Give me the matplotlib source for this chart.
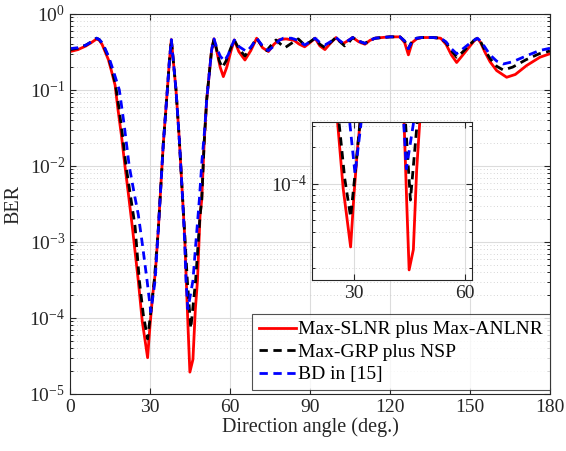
import matplotlib
matplotlib.use("Agg")
import matplotlib.pyplot as plt
from matplotlib.ticker import LogLocator, NullFormatter, FixedLocator

plt.rcParams['font.family'] = ['Liberation Serif', 'DejaVu Serif']
plt.rcParams['mathtext.fontset'] = 'custom'
plt.rcParams['mathtext.rm'] = 'Liberation Serif'
plt.rcParams['mathtext.default'] = 'regular'
plt.rcParams['axes.unicode_minus'] = False

# Max-SLNR plus Max-ANLNR (red)
red_ang = [0, 3, 6, 8, 10, 11, 12, 13, 14.4, 15.5, 16.9, 18, 19.3, 20.6, 22, 23.5,
           25.6, 27.1, 28, 29.1, 30, 31, 32, 33.1, 34, 35, 36.5, 37.3, 38, 38.7,
           39.75, 41, 42.25, 43, 43.6, 44.3, 44.95, 46.1, 47, 47.8, 48.75, 49.4,
           50.3, 51.25, 53.1, 54, 55, 56.3, 57.5, 58.8, 60.3, 61.6, 63.3, 65.6,
           67.8, 70, 72.2, 74.4, 76.5, 78.5, 81, 84, 86, 88, 90, 91.9, 93.7, 95.6,
           97.6, 99.75, 101, 102.5, 104, 106, 108.3, 110.6, 112.5, 114.4, 117, 120,
           123.75, 125.5, 126.9, 128.3, 130, 132, 136, 139, 141, 143, 145, 147,
           149.5, 151.5, 152.75, 154, 155.5, 157.5, 160, 163.75, 167, 171.25,
           176.25, 180]
red_ber = [0.32, 0.34, 0.38, 0.42, 0.47, 0.45, 0.40, 0.33, 0.25, 0.18, 0.116, 0.055,
           0.025, 0.010, 4.0e-3, 1.44e-3, 3.1e-4, 9e-5, 5.5e-5, 3.0e-5, 8e-5, 2.0e-4,
           4.0e-4, 1.44e-3, 5e-3, 0.02, 0.1, 0.25, 0.46, 0.25, 0.1, 0.022, 3.6e-3,
           1.2e-3, 3.1e-4, 7e-5, 1.94e-5, 2.85e-5, 1.3e-4, 3.1e-4, 2.2e-3, 3.6e-3,
           0.02, 0.074, 0.336, 0.47, 0.33, 0.2, 0.15, 0.2, 0.32, 0.455, 0.32, 0.248,
           0.33, 0.48, 0.36, 0.32, 0.40, 0.46, 0.47, 0.45, 0.40, 0.37, 0.42, 0.48,
           0.38, 0.34, 0.41, 0.49, 0.44, 0.41, 0.44, 0.49, 0.43, 0.40, 0.45, 0.48,
           0.49, 0.50, 0.50, 0.42, 0.29, 0.42, 0.47, 0.49, 0.49, 0.48, 0.40, 0.29,
           0.23, 0.28, 0.36, 0.44, 0.48, 0.42, 0.32, 0.236, 0.18, 0.147, 0.16, 0.21,
           0.27, 0.30]

# Max-GRP plus NSP (black)
blk_ang = [0, 3, 6, 8, 10, 11, 12, 13, 14.4, 15.5, 17, 18.3, 19.7, 21, 22.7, 24.4,
           26.0, 27.5, 29.1, 30.3, 31.6, 33.1, 34, 35, 36.5, 37.3, 38, 38.7, 39.75,
           41, 42.25, 43, 44.0, 45.3, 47.1, 48.75, 49.4, 50.3, 51.25, 53.1, 54, 55,
           56, 57.1, 58.5, 60.2, 61.6, 63.5, 65.6, 67.8, 70, 72, 73.75, 75.5, 77.25,
           79, 80.6, 83, 85.6, 88, 90, 91.9, 93.7, 95.6, 97.6, 99.75, 101.3, 103,
           104.5, 106, 108.3, 110.6, 112.5, 114.4, 117, 120, 123.75, 125.5, 126.9,
           128.3, 130, 132, 136, 139, 141, 143, 145, 147, 149.5, 151.5, 152.75, 154,
           155.5, 157.5, 160, 162.5, 166, 171, 176, 180]
blk_ber = [0.34, 0.355, 0.39, 0.43, 0.48, 0.46, 0.41, 0.35, 0.27, 0.20, 0.12, 0.06,
           0.025, 0.010, 4.0e-3, 1.6e-3, 3.1e-4, 1.1e-4, 5.3e-5, 1.2e-4, 3.1e-4,
           1.44e-3, 5e-3, 0.02, 0.1, 0.25, 0.46, 0.25, 0.1, 0.022, 3.6e-3, 1.3e-3,
           3.1e-4, 7.3e-5, 3.1e-4, 2.2e-3, 3.6e-3, 0.02, 0.074, 0.336, 0.47, 0.34,
           0.24, 0.197, 0.24, 0.35, 0.455, 0.34, 0.28, 0.36, 0.48, 0.38, 0.33, 0.39,
           0.455, 0.40, 0.36, 0.41, 0.47, 0.39, 0.43, 0.48, 0.40, 0.36, 0.42, 0.49,
           0.43, 0.38, 0.42, 0.49, 0.44, 0.41, 0.45, 0.48, 0.49, 0.50, 0.50, 0.44,
           0.35, 0.44, 0.48, 0.49, 0.49, 0.48, 0.42, 0.33, 0.27, 0.31, 0.38, 0.45,
           0.48, 0.43, 0.34, 0.26, 0.205, 0.183, 0.20, 0.25, 0.30, 0.326]

# BD in [15] (blue)
blu_ang = [0, 3, 6, 8, 10, 11, 12, 13, 14.4, 15.8, 17.2, 18.5, 20.3, 22.2, 24, 25.6,
           27.2, 28.9, 30.3, 31.9, 33.1, 34, 35, 36.5, 37.3, 38, 38.7, 39.75, 41,
           42.25, 43, 43.5, 44.2, 46.1, 47, 48.5, 49.5, 50.5, 51.25, 53.1, 54, 55,
           56.3, 57.9, 59.3, 60.5, 61.6, 63.5, 66.25, 68.2, 70, 72.2, 74.4, 76.5,
           78.5, 80, 83, 85.5, 88, 90, 91.9, 93.7, 95.6, 97.6, 99.75, 101, 102.5,
           104, 106, 108.3, 110.6, 112.5, 114.4, 117, 120, 123.75, 125.5, 126.9,
           128.3, 130, 132, 136, 139, 141, 143, 145, 147, 149.5, 151.5, 152.75, 154,
           155.5, 157.5, 160, 162.5, 166, 171, 176, 180]
blu_ber = [0.35, 0.36, 0.39, 0.43, 0.48, 0.46, 0.42, 0.36, 0.28, 0.20, 0.14, 0.10,
           0.035, 0.010, 4.5e-3, 2.3e-3, 9e-4, 3.1e-4, 1.2e-4, 3.1e-4, 1.44e-3,
           5e-3, 0.02, 0.1, 0.25, 0.46, 0.25, 0.1, 0.022, 3.6e-3, 1.0e-3, 3.1e-4,
           1.32e-4, 3.1e-4, 8e-4, 3.6e-3, 0.012, 0.03, 0.074, 0.336, 0.47, 0.36,
           0.28, 0.24, 0.29, 0.37, 0.455, 0.37, 0.32, 0.38, 0.48, 0.38, 0.33, 0.38,
           0.45, 0.48, 0.48, 0.45, 0.39, 0.43, 0.48, 0.42, 0.39, 0.43, 0.49, 0.45,
           0.41, 0.44, 0.49, 0.44, 0.41, 0.45, 0.48, 0.49, 0.50, 0.50, 0.44, 0.35,
           0.44, 0.48, 0.49, 0.49, 0.48, 0.43, 0.35, 0.30, 0.34, 0.40, 0.45, 0.48,
           0.44, 0.37, 0.29, 0.24, 0.22, 0.235, 0.28, 0.33, 0.354]

labels = ['Max-SLNR plus Max-ANLNR', 'Max-GRP plus NSP', 'BD in [15]']
xticks = [0, 30, 60, 90, 120, 150, 180]


def draw(ax, lw):
    ax.semilogy(red_ang, red_ber, color='#ff0000', lw=lw, label=labels[0])
    ax.semilogy(blk_ang, blk_ber, color='black', lw=lw, ls=(0, (3, 2)), label=labels[1])
    ax.semilogy(blu_ang, blu_ber, color='#0000ff', lw=lw, ls=(0, (3, 2)), label=labels[2])


def style(ax):
    ax.grid(True, which='major', color='#dcdcdc', lw=0.8, ls='-')
    ax.grid(True, which='minor', axis='y', color='#c8c8c8', lw=0.6, ls=(0, (1, 3)))
    ax.tick_params(which='both', direction='in', top=True, right=True)
    ax.tick_params(which='major', length=4)
    ax.tick_params(which='minor', length=2)
    for s in ax.spines.values():
        s.set_color('#262626')
        s.set_linewidth(0.8)
    ax.set_axisbelow(True)


fig = plt.figure(figsize=(5.66, 4.51), dpi=100)
ax = fig.add_axes([0.1237, 0.1264, 0.8480, 0.8426])
draw(ax, 2.0)
ax.set_xlim(0, 180)
ax.set_ylim(1e-5, 1)
ax.set_xticks(xticks)
ax.yaxis.set_major_locator(LogLocator(base=10, numticks=10))
ax.yaxis.set_minor_locator(LogLocator(base=10, subs=range(2, 10), numticks=10))
ax.yaxis.set_minor_formatter(NullFormatter())
style(ax)
ax.tick_params(labelsize=14, colors='#262626')
ax.set_xlabel('Direction angle (deg.)', fontsize=14.5, color='#262626', labelpad=1)
ax.set_ylabel('BER', fontsize=14.5, color='#262626', labelpad=4)
leg = ax.legend(loc='lower right', bbox_to_anchor=(1.0, 0.01), fontsize=14,
                frameon=True, fancybox=False, borderaxespad=0, handlelength=1.9,
                handletextpad=0.15, borderpad=0.35, labelspacing=0.25)
leg.get_frame().set_edgecolor('#262626')
leg.get_frame().set_linewidth(0.8)

# zoomed inset
axi = fig.add_axes([0.551, 0.379, 0.283, 0.350])
draw(axi, 2.0)
axi.set_xlim(18.6, 62)
axi.set_ylim(1.6e-5, 3.2e-4)
axi.set_xticks([30, 60])
axi.yaxis.set_major_locator(FixedLocator([1e-4]))
axi.yaxis.set_minor_locator(LogLocator(base=10, subs=range(2, 10), numticks=10))
axi.yaxis.set_minor_formatter(NullFormatter())
style(axi)
axi.tick_params(labelsize=14, colors='#262626')

fig.savefig('out.png', dpi=100)
